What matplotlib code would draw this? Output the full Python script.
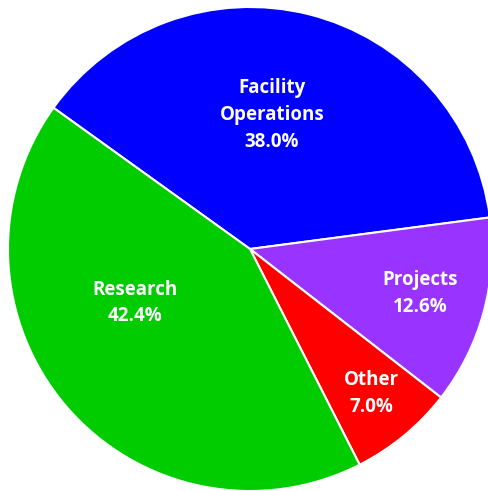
import matplotlib
matplotlib.use("Agg")
import matplotlib.pyplot as plt

categories = ["Facility\nOperations", "Projects", "Other", "Research"]
values = [38.0, 12.6, 7.0, 42.4]
colors = ["#0000FF", "#9933FF", "#FF0000", "#00CC00"]
# label anchor positions (data coords, pie radius = 1)
label_pos = [(0.091, 0.554), (0.702, -0.184), (0.500, -0.597), (-0.475, -0.223)]

fig = plt.figure(figsize=(4.89, 4.91), dpi=100)
ax = fig.add_axes([0, 0, 1, 1])
wedges, _ = ax.pie(values, colors=colors, startangle=144.3, counterclock=False,
                   radius=1.0, wedgeprops=dict(edgecolor="white", linewidth=1.5))
for name, v, (x, y) in zip(categories, values, label_pos):
    ax.text(x, y, f"{name}\n{v:.1f}%", ha="center", va="center", color="white",
            fontsize=13.5, fontweight="bold", family="Open Sans", linespacing=1.45)
ax.set_xlim(-250/242, 239/242)
ax.set_ylim(-242/242, 249/242)
ax.set_aspect("equal")
ax.axis("off")
fig.savefig("out.png", dpi=100)
